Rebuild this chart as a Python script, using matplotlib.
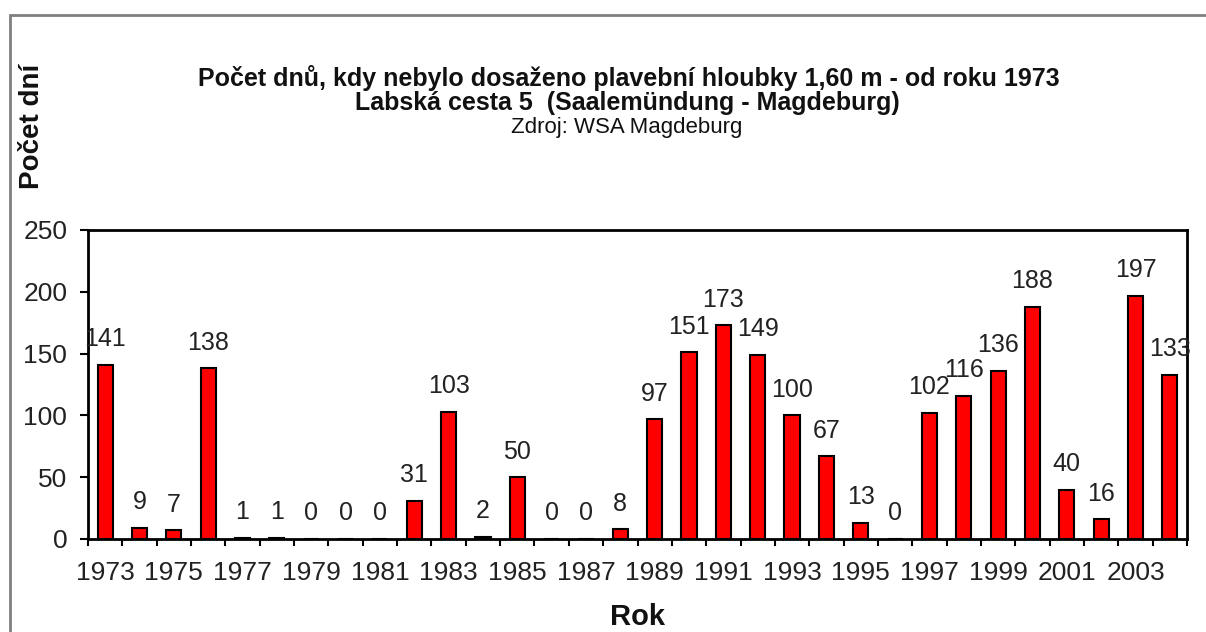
import numpy as np
import matplotlib.pyplot as plt
from matplotlib.patches import Rectangle

# data
years = list(range(1973, 2005))
days = [141, 9, 7, 138, 1, 1, 0, 0, 0, 31, 103, 2, 50, 0, 0, 8,
        97, 151, 173, 149, 100, 67, 13, 0, 102, 116, 136, 188, 40, 16, 197, 133]
yticks = [0, 50, 100, 150, 200, 250]

title1 = "Počet dnů, kdy nebylo dosaženo plavební hloubky 1,60 m - od roku 1973"
title2 = "Labská cesta 5  (Saalemündung - Magdeburg)"
title3 = "Zdroj: WSA Magdeburg"

plt.rcParams["font.family"] = ["Liberation Sans", "DejaVu Sans"]

fig = plt.figure(figsize=(12.06, 6.32), dpi=100)
ax = fig.add_axes([88 / 1206, 1 - 539 / 632, 1099 / 1206, 309 / 632])

x = np.arange(len(years))
ax.bar(x, days, width=0.44, color="#ff0000", edgecolor="black", linewidth=1.5, zorder=3)

for xi, v in zip(x, days):
    ax.text(xi, v + 11, str(v), ha="center", va="bottom", fontsize=18, color="#222222")

ax.set_xlim(-0.5, len(years) - 0.5)
ax.set_ylim(0, 250)
ax.set_yticks(yticks)
ax.tick_params(axis="y", labelsize=19, length=6, width=1.5, direction="out", pad=9,
               labelcolor="#222222")

# ticks at category boundaries, labels every other year
ax.set_xticks(np.arange(len(years) + 1) - 0.5)
ax.set_xticklabels([])
ax.set_xticks(x[::2], minor=True)
ax.set_xticklabels([str(y) for y in years[::2]], minor=True)
ax.tick_params(axis="x", which="major", length=5, width=1.5, direction="out")
ax.tick_params(axis="x", which="minor", length=0, labelsize=19, pad=16, labelcolor="#222222")

for s in ax.spines.values():
    s.set_linewidth(2)
    s.set_color("black")

fig.text(629 / 1206, 1 - 78 / 632, title1, ha="center", va="center",
         fontsize=18, fontweight="bold", color="#111111")
fig.text(627 / 1206, 1 - 103 / 632, title2, ha="center", va="center",
         fontsize=18, fontweight="bold", color="#111111")
fig.text(627 / 1206, 1 - 128 / 632, title3, ha="center", va="center",
         fontsize=16, color="#111111")

fig.text(32 / 1206, 1 - 126 / 632, "Počet dní", rotation=90, ha="center", va="center",
         fontsize=20, fontweight="bold", color="#111111")
fig.text(638 / 1206, 1 - 617 / 632, "Rok", ha="center", va="center",
         fontsize=21, fontweight="bold", color="#111111")

# outer chart frame (only top and left edges visible)
fig.add_artist(Rectangle((10 / 1206, -0.1), 1.2, 1.1 - 15 / 632, transform=fig.transFigure,
                         fill=False, edgecolor="#808080", linewidth=2))

fig.savefig("out.png", dpi=100)
